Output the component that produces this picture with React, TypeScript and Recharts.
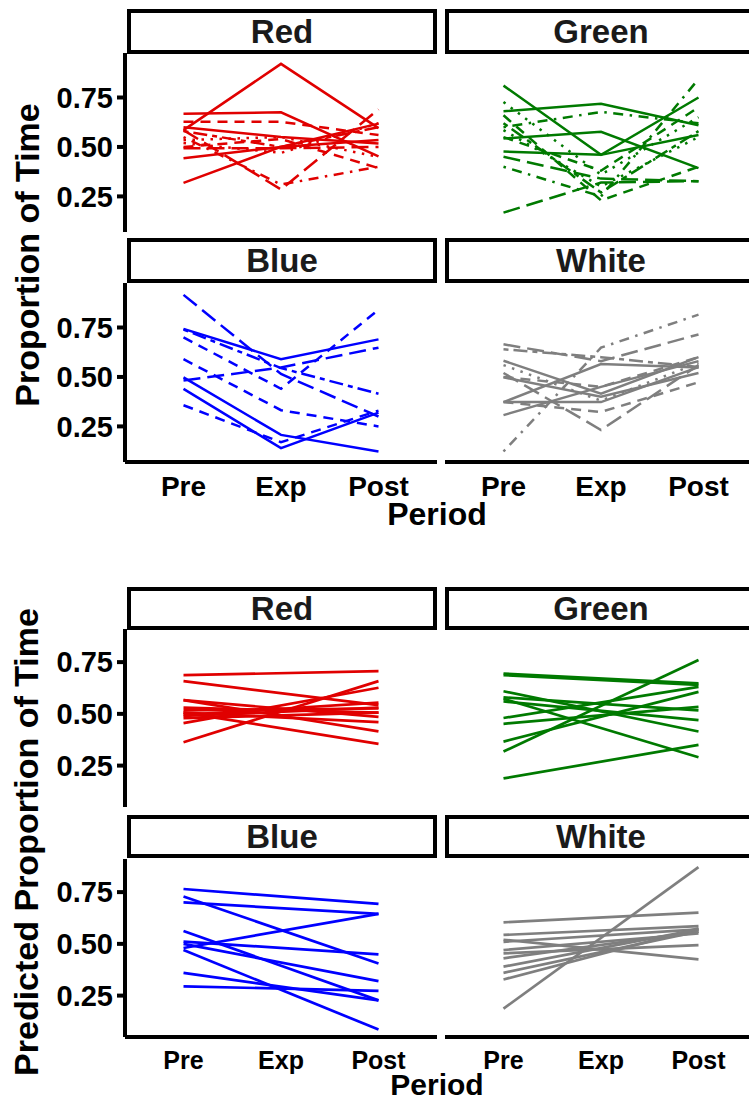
import React from 'react';
import { LineChart, Line, XAxis, YAxis } from 'recharts';

// ---------- categories / ticks ----------
const periods = ['Pre', 'Exp', 'Post'];
const yTicks = [0.25, 0.5, 0.75];
const facetNames = ['Red', 'Green', 'Blue', 'White'];
const facetColors = ['#E00000', '#007A00', '#0000FF', '#7F7F7F'];

// ---------- observed proportions (top figure) ----------
const obsRedPre = [0.585, 0.668, 0.318, 0.585, 0.55, 0.627, 0.493, 0.535, 0.443, 0.58, 0.6, 0.52, 0.5];
const obsRedExp = [0.92, 0.675, 0.5, 0.285, 0.31, 0.627, 0.493, 0.55, 0.5, 0.5, 0.55, 0.47, 0.54];
const obsRedPost = [0.595, 0.452, 0.618, 0.69, 0.4, 0.56, 0.5, 0.45, 0.535, 0.6, 0.518, 0.62, 0.393];
const obsRedType = ['solid', 'solid', 'solid', 'longdash', 'dotdash', 'dashed', 'longdash', 'dotted', 'solid', 'twodash', 'solid', 'dotted', 'dashed'];

const obsGreenPre = [0.81, 0.68, 0.543, 0.477, 0.6, 0.168, 0.4, 0.727, 0.66, 0.585, 0.55, 0.45, 0.62];
const obsGreenExp = [0.46, 0.718, 0.577, 0.46, 0.677, 0.32, 0.25, 0.36, 0.23, 0.3, 0.38, 0.34, 0.27];
const obsGreenPost = [0.75, 0.61, 0.393, 0.56, 0.62, 0.327, 0.843, 0.65, 0.4, 0.55, 0.7, 0.327, 0.58];
const obsGreenType = ['solid', 'solid', 'solid', 'solid', 'dotdash', 'longdash', 'dotdash', 'dotted', 'dashed', 'dotted', 'dashed', 'longdash', 'twodash'];

const obsBluePre = [0.743, 0.915, 0.7, 0.482, 0.59, 0.498, 0.44, 0.357, 0.74];
const obsBlueExp = [0.59, 0.515, 0.44, 0.548, 0.332, 0.207, 0.14, 0.17, 0.545];
const obsBluePost = [0.69, 0.3, 0.84, 0.648, 0.25, 0.123, 0.32, 0.33, 0.415];
const obsBlueType = ['solid', 'longdash', 'dashed', 'longdash', 'dashed', 'solid', 'solid', 'dashed', 'twodash'];

const obsWhitePre = [0.123, 0.665, 0.582, 0.373, 0.373, 0.498, 0.52, 0.373, 0.56, 0.64, 0.5, 0.307];
const obsWhiteExp = [0.648, 0.58, 0.415, 0.565, 0.373, 0.4, 0.232, 0.323, 0.38, 0.6, 0.45, 0.45];
const obsWhitePost = [0.815, 0.715, 0.6, 0.548, 0.55, 0.52, 0.56, 0.473, 0.57, 0.55, 0.6, 0.58];
const obsWhiteType = ['dotdash', 'longdash', 'solid', 'solid', 'solid', 'solid', 'longdash', 'dashed', 'dotted', 'twodash', 'dashed', 'solid'];

// ---------- predicted proportions (bottom figure) ----------
const predRedPre = [0.687, 0.658, 0.363, 0.455, 0.566, 0.506, 0.517, 0.495, 0.479, 0.566, 0.506, 0.53, 0.49];
const predRedPost = [0.706, 0.542, 0.658, 0.626, 0.415, 0.355, 0.526, 0.554, 0.506, 0.485, 0.46, 0.506, 0.53];

const predGreenPre = [0.695, 0.687, 0.318, 0.609, 0.573, 0.56, 0.48, 0.452, 0.366, 0.188, 0.58];
const predGreenPost = [0.647, 0.64, 0.76, 0.415, 0.29, 0.47, 0.63, 0.534, 0.606, 0.35, 0.517];

const predBluePre = [0.765, 0.729, 0.7, 0.48, 0.562, 0.511, 0.5, 0.47, 0.36, 0.295];
const predBluePost = [0.693, 0.405, 0.645, 0.645, 0.227, 0.449, 0.32, 0.086, 0.227, 0.273];

const predWhitePre = [0.187, 0.604, 0.543, 0.52, 0.51, 0.454, 0.43, 0.39, 0.36, 0.328, 0.47];
const predWhitePost = [0.871, 0.651, 0.586, 0.425, 0.57, 0.494, 0.559, 0.57, 0.56, 0.575, 0.55];

// ---------- helpers ----------
const dashMap: Record<string, string | undefined> = {
  solid: undefined,
  dashed: '10 7',
  dotted: '2.5 6.5',
  dotdash: '2.5 6.5 10 6.5',
  longdash: '17 7',
  twodash: '5 5 14 5',
};

function buildRows(pre: number[], exp: (number | null)[], post: number[]) {
  const cols = [pre, exp, post];
  return periods.map((p, i) => {
    const row: Record<string, any> = { x: i + 1, period: p };
    cols[i].forEach((v, k) => {
      row['s' + k] = v;
    });
    return row;
  });
}

const FONT = "'Liberation Sans', Arial, Helvetica, sans-serif";

type PanelProps = {
  x: number;
  y: number;
  w: number;
  h: number;
  axisW: number;
  showY: boolean;
  showX: boolean;
  xFont: number;
  xAxisH: number;
  domain: [number, number];
  color: string;
  rows: Record<string, any>[];
  types: string[];
  lineW: number;
};

function Panel(p: PanelProps) {
  const chartLeft = p.x - (p.showY ? p.axisW : 0);
  const chartW = p.w + (p.showY ? p.axisW : 0);
  const chartH = p.h + (p.showX ? p.xAxisH : 0);
  return (
    <div style={{ position: 'absolute', left: chartLeft, top: p.y }}>
      <LineChart width={chartW} height={chartH} data={p.rows} margin={{ top: 0, right: 0, bottom: 0, left: 0 }}>
        <XAxis
          type="number"
          dataKey="x"
          domain={[0.4, 3.6]}
          ticks={[1, 2, 3]}
          interval={0}
          tickFormatter={(v: number) => periods[v - 1]}
          hide={!p.showX}
          height={p.xAxisH}
          tickLine={false}
          axisLine={{ stroke: '#000', strokeWidth: 4 }}
          tick={{ fill: '#000', fontSize: p.xFont, fontWeight: 700, fontFamily: FONT }}
          tickMargin={8}
        />
        <YAxis
          type="number"
          domain={p.domain}
          ticks={yTicks}
          allowDataOverflow
          hide={!p.showY}
          width={p.axisW}
          tickFormatter={(v: number) => v.toFixed(2)}
          axisLine={{ stroke: '#000', strokeWidth: 4 }}
          tickLine={{ stroke: '#000', strokeWidth: 4 }}
          tickSize={8}
          tickMargin={4}
          tick={{ fill: '#000', fontSize: 29, fontWeight: 700, fontFamily: FONT }}
        />
        {p.types.map((t, k) => (
          <Line
            key={k}
            type="linear"
            dataKey={'s' + k}
            stroke={p.color}
            strokeWidth={p.lineW}
            strokeDasharray={dashMap[t]}
            dot={false}
            activeDot={false}
            connectNulls
            isAnimationActive={false}
          />
        ))}
      </LineChart>
    </div>
  );
}

function Strip({ x, y, w, h, label }: { x: number; y: number; w: number; h: number; label: string }) {
  return (
    <div
      style={{
        position: 'absolute',
        left: x,
        top: y,
        width: w,
        height: h,
        boxSizing: 'border-box',
        border: '4px solid #000',
        background: '#fff',
        display: 'flex',
        alignItems: 'center',
        justifyContent: 'center',
        fontFamily: FONT,
        fontWeight: 700,
        fontSize: 33,
        color: '#1a1a1a',
        lineHeight: 1,
      }}
    >
      {label}
    </div>
  );
}

const LEFT_X = 125;
const RIGHT_X = 445;
const PANEL_W = 312;

type FigSpec = {
  stripTops: [number, number];
  stripH: number;
  panelTops: [number, number];
  panelH: number;
  domain: [number, number];
  xFont: number;
  xAxisH: number;
  lineW: number;
  data: { rows: Record<string, any>[]; types: string[] }[];
};

function Figure(f: FigSpec) {
  const items: React.ReactNode[] = [];
  for (let i = 0; i < 4; i++) {
    const col = i % 2;
    const rowI = Math.floor(i / 2);
    const px = col === 0 ? LEFT_X : RIGHT_X;
    items.push(
      <Strip
        key={'s' + i}
        x={px + (col === 0 ? 2 : 0)}
        y={f.stripTops[rowI]}
        w={PANEL_W - (col === 0 ? 2 : 0)}
        h={f.stripH}
        label={facetNames[i]}
      />
    );
    items.push(
      <Panel
        key={'p' + i}
        x={px}
        y={f.panelTops[rowI]}
        w={PANEL_W}
        h={f.panelH}
        axisW={125}
        showY={col === 0}
        showX={rowI === 1}
        xFont={f.xFont}
        xAxisH={f.xAxisH}
        domain={f.domain}
        color={facetColors[i]}
        rows={f.data[i].rows}
        types={f.data[i].types}
        lineW={f.lineW}
      />
    );
  }
  return <>{items}</>;
}

const obsData = [
  { rows: buildRows(obsRedPre, obsRedExp, obsRedPost), types: obsRedType },
  { rows: buildRows(obsGreenPre, obsGreenExp, obsGreenPost), types: obsGreenType },
  { rows: buildRows(obsBluePre, obsBlueExp, obsBluePost), types: obsBlueType },
  { rows: buildRows(obsWhitePre, obsWhiteExp, obsWhitePost), types: obsWhiteType },
];

const predData = [
  { rows: buildRows(predRedPre, predRedPre.map(() => null), predRedPost), types: predRedPre.map(() => 'solid') },
  { rows: buildRows(predGreenPre, predGreenPre.map(() => null), predGreenPost), types: predGreenPre.map(() => 'solid') },
  { rows: buildRows(predBluePre, predBluePre.map(() => null), predBluePost), types: predBluePre.map(() => 'solid') },
  { rows: buildRows(predWhitePre, predWhitePre.map(() => null), predWhitePost), types: predWhitePre.map(() => 'solid') },
];

function AxisTitle({ text, x, y, rotate, size }: { text: string; x: number; y: number; rotate?: boolean; size: number }) {
  return (
    <div
      style={{
        position: 'absolute',
        left: x,
        top: y,
        transform: `translate(-50%, -50%)${rotate ? ' rotate(-90deg)' : ''}`,
        whiteSpace: 'nowrap',
        fontFamily: FONT,
        fontWeight: 700,
        fontSize: size,
        color: '#000',
        lineHeight: 1.1,
      }}
    >
      {text}
    </div>
  );
}

export default function App() {
  return (
    <div
      style={{
        position: 'absolute',
        left: 0,
        top: 0,
        width: 749,
        height: 1102,
        overflow: 'hidden',
        background: '#fff',
      }}
    >
      <Figure
        stripTops={[9, 238]}
        stripH={45}
        panelTops={[53, 283]}
        panelH={179}
        domain={[0.07, 0.975]}
        xFont={28}
        xAxisH={46}
        lineW={2.5}
        data={obsData}
      />
      <AxisTitle text="Period" x={437} y={515} size={32} />
      <AxisTitle text="Proportion of Time" x={28} y={255} size={34} rotate />

      <Figure
        stripTops={[587, 815]}
        stripH={43}
        panelTops={[629, 859]}
        panelH={178}
        domain={[0.05, 0.91]}
        xFont={25}
        xAxisH={40}
        lineW={2.7}
        data={predData}
      />
      <AxisTitle text="Period" x={437} y={1084} size={30} />
      <AxisTitle text="Predicted Proportion of Time" x={27} y={842} size={34} rotate />
    </div>
  );
}
